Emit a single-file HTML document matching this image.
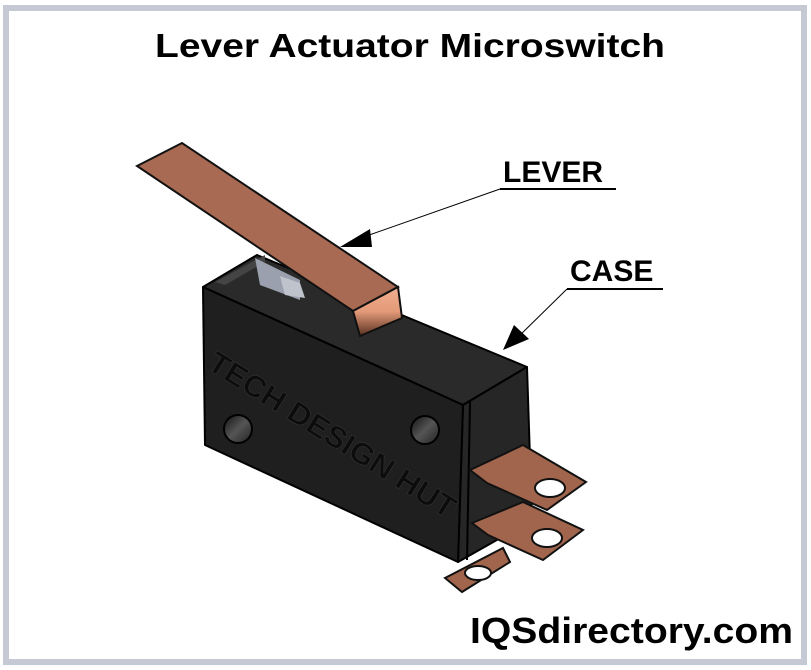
<!DOCTYPE html>
<html><head><meta charset="utf-8"><style>
html,body{margin:0;padding:0;background:#fff;}
svg{display:block;}
text{font-family:"Liberation Sans",Arial,sans-serif;font-weight:bold;}
</style></head><body>
<svg width="811" height="670" viewBox="0 0 811 670" xmlns="http://www.w3.org/2000/svg">
<defs>
<linearGradient id="hole" x1="0" y1="0" x2="1" y2="1"><stop offset="0" stop-color="#111"/><stop offset="0.5" stop-color="#555"/><stop offset="1" stop-color="#222"/></linearGradient>
<linearGradient id="bend" x1="0" y1="0" x2="0" y2="1"><stop offset="0" stop-color="#f0b090"/><stop offset="0.5" stop-color="#e39a78"/><stop offset="1" stop-color="#5a3020"/></linearGradient>
</defs>
<rect x="0" y="0" width="811" height="670" fill="#fff"/>
<rect x="6" y="8" width="798" height="654" fill="none" stroke="#c4c9d4" stroke-width="6"/>
<text x="410" y="57" font-size="33" text-anchor="middle" textLength="510" lengthAdjust="spacingAndGlyphs">Lever Actuator Microswitch</text>

<!-- bottom terminal -->
<polygon points="445,578 503,548 510,562 462,592" fill="#a0654c" stroke="#111" stroke-width="2"/>
<ellipse cx="478" cy="573" rx="13" ry="7" fill="#fff" stroke="#111" stroke-width="2"/>

<!-- case -->
<polygon points="203,287 257,255 527,367 463,405" fill="#2a2a2a" stroke="#000" stroke-width="2" stroke-linejoin="round"/>
<polygon points="463,405 527,367 532,520 458,562" fill="#262626" stroke="#000" stroke-width="2" stroke-linejoin="round"/>
<polygon points="203,287 463,405 458,562 205,445" fill="#1f1f1f" stroke="#000" stroke-width="2" stroke-linejoin="round"/>
<line x1="470" y1="402" x2="467" y2="560" stroke="#000" stroke-width="2"/>
<polygon points="215,282 265,255 265,262 225,285" fill="#444"/>
<polygon points="255,258 300,280 300,300 260,285" fill="#9aa0ad"/>
<polygon points="280,276 300,283 305,298 285,295" fill="#bfc3cc"/>
<circle cx="238" cy="429" r="14" fill="url(#hole)" stroke="#000" stroke-width="2"/>
<circle cx="425" cy="430" r="14" fill="url(#hole)" stroke="#000" stroke-width="2"/>
<text x="0" y="0" font-size="30" fill="#0c0c0c" stroke="#333" stroke-width="0.6" transform="translate(206,368) rotate(32)" textLength="285" lengthAdjust="spacingAndGlyphs">TECH DESIGN HUT</text>

<!-- upper terminals -->
<polygon points="470,470 523,445 586,482 547,510 487,483" fill="#a0654c" stroke="#111" stroke-width="2"/>
<ellipse cx="550" cy="488" rx="15" ry="9" fill="#fff" stroke="#111" stroke-width="2"/>
<polygon points="472,523 523,502 583,530 543,560 488,535" fill="#a0654c" stroke="#111" stroke-width="2"/>
<ellipse cx="547" cy="538" rx="15" ry="9" fill="#fff" stroke="#111" stroke-width="2"/>

<!-- lever -->
<polygon points="137,166 182,143 398,287 353,311" fill="#a86a52" stroke="#111" stroke-width="2"/>
<polygon points="353,311 398,287 402,318 360,336" fill="url(#bend)" stroke="#111" stroke-width="2"/>

<!-- labels -->
<text x="503" y="182" font-size="30">LEVER</text>
<line x1="500" y1="189" x2="616" y2="189" stroke="#000" stroke-width="2"/>
<line x1="500" y1="189" x2="355" y2="240" stroke="#000" stroke-width="1"/>
<polygon points="340,247 370,229 372,247" fill="#000"/>
<text x="570" y="281" font-size="30">CASE</text>
<line x1="567" y1="289" x2="663" y2="289" stroke="#000" stroke-width="2"/>
<line x1="567" y1="289" x2="515" y2="340" stroke="#000" stroke-width="1"/>
<polygon points="503,350 514,325 529,339" fill="#000"/>

<text x="470" y="643" font-size="36" textLength="323" lengthAdjust="spacingAndGlyphs">IQSdirectory.com</text>
</svg>
</body></html>
